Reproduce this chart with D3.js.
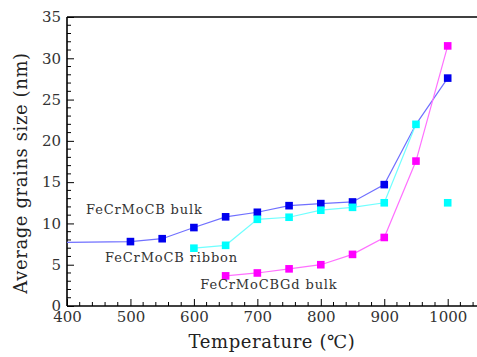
<!DOCTYPE html>
<html>
<head>
<meta charset="utf-8">
<script src="https://cdn.jsdelivr.net/npm/d3@7"></script>
<style>
  body { margin: 0; background: #fff; }
  svg { display: block; }
  text { font-family: "DejaVu Serif", "Liberation Serif", serif; }
</style>
</head>
<body>
<svg id="chart" width="477" height="357"></svg>
<script>
// grain size vs annealing temperature
var bulkT     = [400, 500, 550, 600, 650, 700, 750, 800, 850, 900, 950, 1000];
var bulkSize  = [7.7, 7.8, 8.15, 9.5, 10.8, 11.35, 12.15, 12.4, 12.6, 14.7, 22.0, 27.6];
var bulkMark  = [false, true, true, true, true, true, true, true, true, true, false, true];

var ribbonT    = [600, 650, 700, 750, 800, 850, 900, 950];
var ribbonSize = [7.0, 7.35, 10.5, 10.75, 11.6, 11.95, 12.5, 22.0];
var ribbonExtraT = [1000];
var ribbonExtraSize = [12.5];

var gdT    = [650, 700, 750, 800, 850, 900, 950, 1000];
var gdSize = [3.65, 4.0, 4.5, 5.0, 6.25, 8.3, 17.55, 31.5];

var xTicks = [400, 500, 600, 700, 800, 900, 1000];
var yTicks = [0, 5, 10, 15, 20, 25, 30, 35];

var svg = d3.select('#chart');
var plotLeft = 67, plotBottom = 306, plotTop = 17;

var x = d3.scaleLinear().domain([400, 1050]).range([plotLeft, plotLeft + 6.5 * 63.45]);
var y = d3.scaleLinear().domain([0, 35]).range([plotBottom, plotTop]);

// frame top line
svg.append('line')
  .attr('x1', plotLeft).attr('x2', 477)
  .attr('y1', plotTop).attr('y2', plotTop)
  .attr('stroke', '#000').attr('stroke-width', 1.6);

// minor ticks
svg.append('g')
  .selectAll('line')
  .data(d3.range(400, 1060, 20).filter(function(d){ return d % 100 !== 0; }))
  .enter().append('line')
  .attr('x1', function(d){ return x(d); }).attr('x2', function(d){ return x(d); })
  .attr('y1', plotBottom).attr('y2', plotBottom - 4)
  .attr('stroke', '#000').attr('stroke-width', 1);

svg.append('g')
  .selectAll('line')
  .data(d3.range(1, 35).filter(function(d){ return d % 5 !== 0; }))
  .enter().append('line')
  .attr('x1', plotLeft).attr('x2', plotLeft + 4)
  .attr('y1', function(d){ return y(d); }).attr('y2', function(d){ return y(d); })
  .attr('stroke', '#000').attr('stroke-width', 1);

// axes with inward ticks
var xAxis = svg.append('g')
  .attr('transform', 'translate(0,' + plotBottom + ')')
  .call(d3.axisBottom(x).tickValues(xTicks).tickSize(-7).tickPadding(8).tickFormat(d3.format('d')));
xAxis.select('.domain').attr('d', 'M' + plotLeft + ',0H477').attr('stroke-width', 1.6);
xAxis.selectAll('.tick line').attr('stroke-width', 1);
xAxis.selectAll('text').attr('font-size', 15).attr('fill', '#333')
  .attr('font-family', 'DejaVu Serif').attr('dy', '0.55em');

var yAxis = svg.append('g')
  .attr('transform', 'translate(' + plotLeft + ',0)')
  .call(d3.axisLeft(y).tickValues(yTicks).tickSize(-7).tickPadding(6));
yAxis.select('.domain').attr('d', 'M0,' + plotBottom + 'V' + plotTop).attr('stroke-width', 1.6);
yAxis.selectAll('.tick line').attr('stroke-width', 1);
yAxis.selectAll('text').attr('font-size', 15).attr('fill', '#333')
  .attr('font-family', 'DejaVu Serif');

// series
var line = d3.line()
  .x(function(d){ return x(d[0]); })
  .y(function(d){ return y(d[1]); });

function drawSeries(ts, vals, marks, lineColor, markColor){
  var pts = ts.map(function(t, i){ return [t, vals[i], marks ? marks[i] : true]; });
  if (pts.length > 1) {
    svg.append('path')
      .attr('d', line(pts))
      .attr('fill', 'none')
      .attr('stroke', lineColor)
      .attr('stroke-width', 1.2);
  }
  svg.append('g')
    .selectAll('rect')
    .data(pts.filter(function(d){ return d[2]; }))
    .enter().append('rect')
    .attr('x', function(d){ return x(d[0]) - 3.8; })
    .attr('y', function(d){ return y(d[1]) - 3.8; })
    .attr('width', 7.6).attr('height', 7.6)
    .attr('fill', markColor);
}

drawSeries(bulkT, bulkSize, bulkMark, '#7070ff', '#0000ee');
drawSeries(ribbonT, ribbonSize, null, '#70ffff', '#00ffff');
drawSeries(ribbonExtraT, ribbonExtraSize, null, '#70ffff', '#00ffff');
drawSeries(gdT, gdSize, null, '#ff70ff', '#ff00ff');

// series labels
var labels = [
  { text: 'FeCrMoCB bulk', t: 430, v: 11.1 },
  { text: 'FeCrMoCB ribbon', t: 460, v: 5.3 },
  { text: 'FeCrMoCBGd bulk', t: 610, v: 2.1 }
];
svg.append('g')
  .selectAll('text')
  .data(labels)
  .enter().append('text')
  .attr('x', function(d){ return x(d.t); })
  .attr('y', function(d){ return y(d.v); })
  .attr('font-size', 13)
  .attr('letter-spacing', 0.85)
  .attr('fill', '#333')
  .text(function(d){ return d.text; });

// axis titles
svg.append('text')
  .attr('x', 272).attr('y', 348)
  .attr('text-anchor', 'middle')
  .attr('font-size', 18)
  .attr('letter-spacing', 0.6)
  .attr('fill', '#222')
  .text('Temperature (\u2103)');

svg.append('text')
  .attr('transform', 'translate(27,173) rotate(-90)')
  .attr('text-anchor', 'middle')
  .attr('font-size', 18)
  .attr('letter-spacing', 0.6)
  .attr('fill', '#222')
  .text('Average grains size (nm)');
</script>
</body>
</html>
